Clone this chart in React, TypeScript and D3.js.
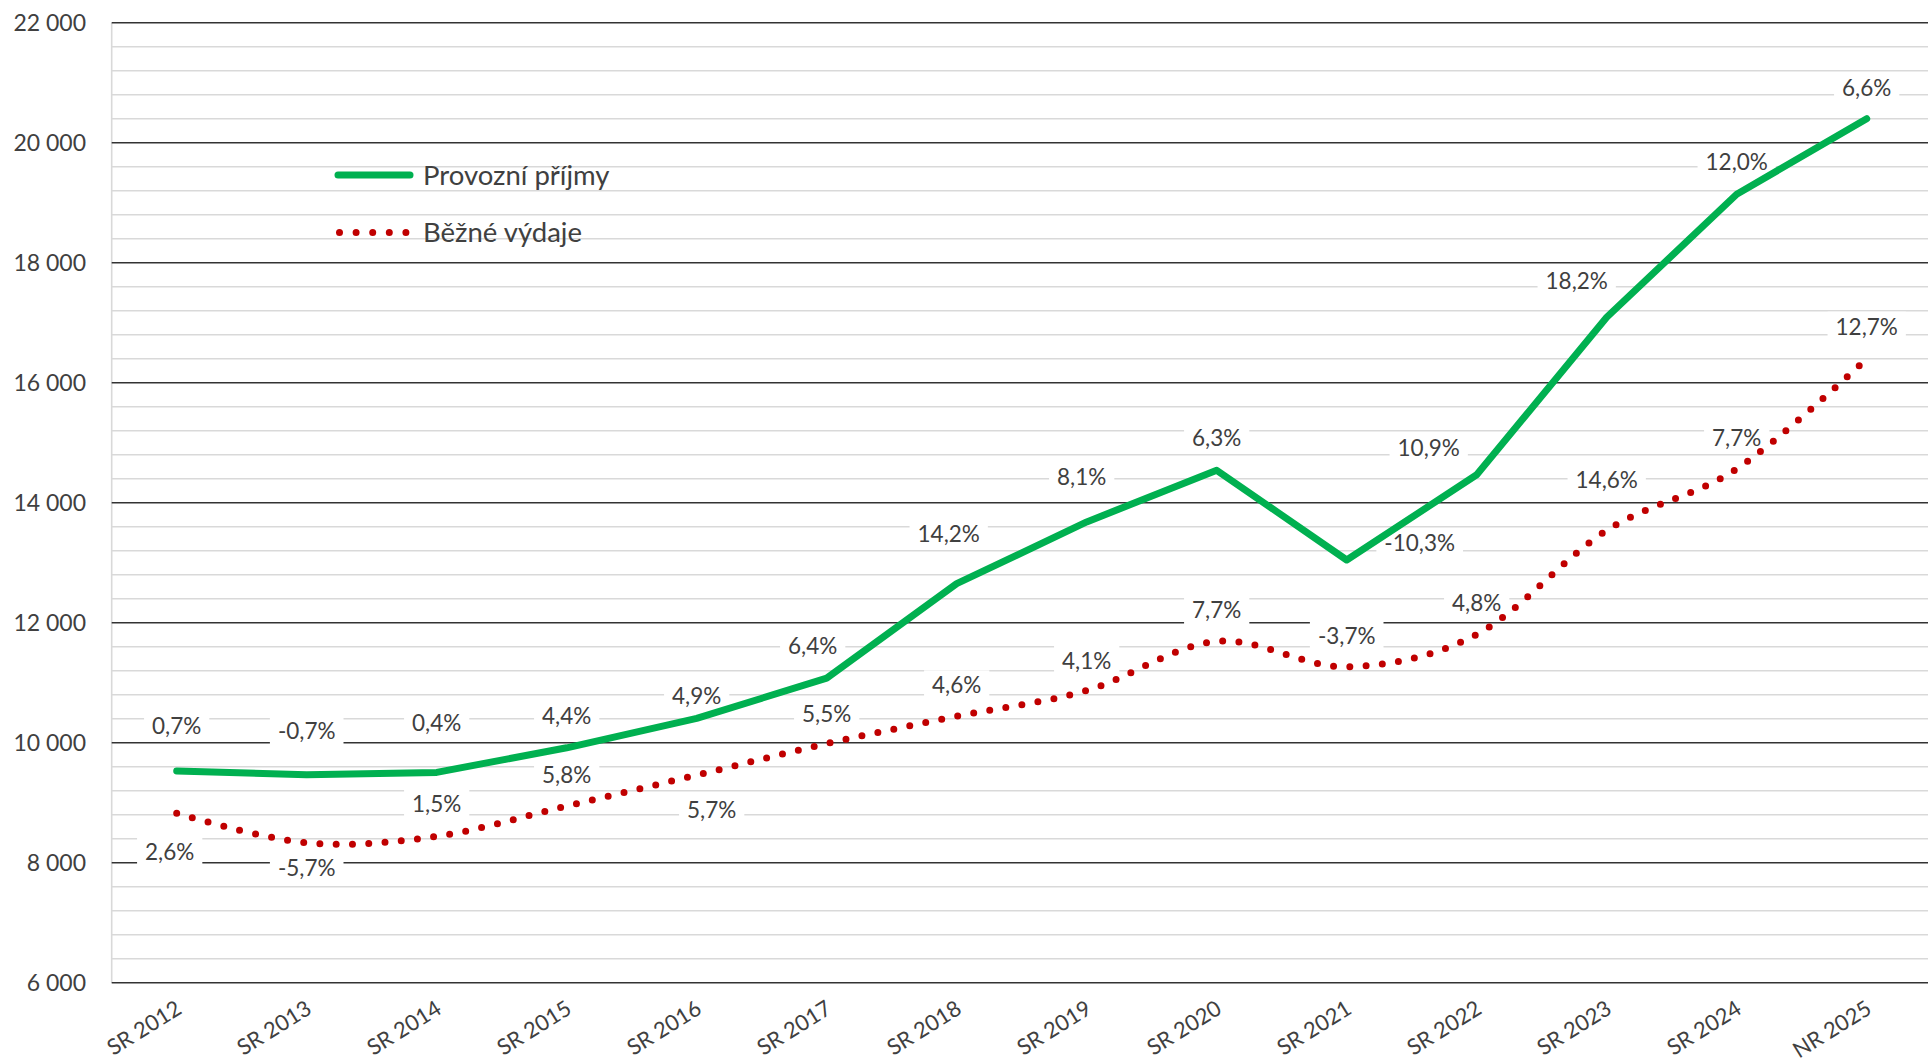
import React, { useEffect, useRef } from "react";
import * as d3 from "d3";

// ---------- data ----------
const categories = [
  "SR 2012", "SR 2013", "SR 2014", "SR 2015", "SR 2016", "SR 2017", "SR 2018",
  "SR 2019", "SR 2020", "SR 2021", "SR 2022", "SR 2023", "SR 2024", "NR 2025",
];
const provozniPrijmy = [9530, 9465, 9505, 9915, 10405, 11075, 12650, 13680, 14540, 13045, 14465, 17090, 19140, 20400];
const bezneVydaje = [8825, 8330, 8440, 8945, 9460, 9985, 10440, 10870, 11690, 11265, 11805, 13540, 14565, 16400];
const prijmyGrowth = [0.7, -0.7, 0.4, 4.4, 4.9, 6.4, 14.2, 8.1, 6.3, -10.3, 10.9, 18.2, 12.0, 6.6];
const vydajeGrowth = [2.6, -5.7, 1.5, 5.8, 5.7, 5.5, 4.6, 4.1, 7.7, -3.7, 4.8, 14.6, 7.7, 12.7];
const majorTicks = [6000, 8000, 10000, 12000, 14000, 16000, 18000, 20000, 22000];
const seriesNames = ["Provozní příjmy", "Běžné výdaje"];

// ---------- label layout (pixel offsets from the point) ----------
const prijmyLabelDx = [0, 0, 0, 0, 0, -14, -8, -5, 0, 73, -48, -30, 0, 0];
const prijmyLabelDy = [-45, -44, -50, -32, -23, -32, -50, -45, -32, -17, -27, -36, -32, -31];
const vydajeLabelDx = [-7, 0, 0, 0, 15, 0, 0, 0, 0, 0, 0, 0, 0, 0];
const vydajeLabelDy = [39, 25, -32, -31, 35, -30, -31, -30, -31, -31, -32, -50, -31, -32];

const W = 1928;
const H = 1064;
const FONT = "Lato, 'Open Sans', 'Noto Sans', sans-serif";
const TEXT = "#404040";
const GREEN = "#00B050";
const RED = "#C00000";

const locale = d3.formatLocale({ decimal: ",", thousands: " ", grouping: [3], currency: ["", ""], minus: "-" });
const fmtThousands = locale.format(",");
const fmtPct = locale.format(".1f");

export default function App() {
  const ref = useRef<SVGSVGElement | null>(null);

  useEffect(() => {
    const svg = d3.select(ref.current);
    svg.selectAll("*").remove();

    const left = 111.7;
    const x = d3.scaleBand<string>().domain(categories).range([left, left + 130 * categories.length]).padding(0);
    const cx = (c: string) => (x(c) as number) + x.bandwidth() / 2;
    const y = d3.scaleLinear().domain([6000, 22000]).range([982.7, 22.7]);

    // grid
    const grid = svg.append("g");
    const minor = d3.range(6000, 22001, 400).filter((v) => v % 2000 !== 0);
    grid.selectAll("line.minor").data(minor).join("line")
      .attr("x1", left).attr("x2", W)
      .attr("y1", (d) => y(d)).attr("y2", (d) => y(d))
      .attr("stroke", "#D9D9D9").attr("stroke-width", 1.6);
    grid.append("line")
      .attr("x1", left).attr("x2", left).attr("y1", y(22000)).attr("y2", y(6000))
      .attr("stroke", "#D9D9D9").attr("stroke-width", 1.6);
    grid.selectAll("line.major").data(majorTicks).join("line")
      .attr("x1", left).attr("x2", W)
      .attr("y1", (d) => y(d)).attr("y2", (d) => y(d))
      .attr("stroke", "#333333").attr("stroke-width", 1.6);

    // y labels
    svg.append("g").selectAll("text").data(majorTicks).join("text")
      .attr("x", 86).attr("y", (d) => y(d)).attr("dy", "0.35em")
      .attr("text-anchor", "end").attr("font-family", FONT).attr("font-size", 23)
      .attr("fill", TEXT).text((d) => fmtThousands(d));

    // x labels
    svg.append("g").selectAll("text").data(categories).join("text")
      .attr("transform", (d) => `translate(${cx(d) - 2},${999}) rotate(-32)`)
      .attr("dy", "0.72em")
      .attr("text-anchor", "end").attr("font-family", FONT).attr("font-size", 22)
      .attr("fill", TEXT).text((d) => d);

    const bgLayer = svg.append("g");
    const lineLayer = svg.append("g");
    const textLayer = svg.append("g");

    // lines
    const greenPts = categories.map((c, i) => [cx(c), y(provozniPrijmy[i])] as [number, number]);
    const redPts = categories.map((c, i) => [cx(c), y(bezneVydaje[i])] as [number, number]);

    lineLayer.append("path")
      .attr("d", d3.line().curve(d3.curveCardinal.tension(0))(redPts) as string)
      .attr("fill", "none").attr("stroke", RED).attr("stroke-width", 7)
      .attr("stroke-linecap", "round").attr("stroke-dasharray", "0 16.3");
    lineLayer.append("path")
      .attr("d", d3.line()(greenPts) as string)
      .attr("fill", "none").attr("stroke", GREEN).attr("stroke-width", 7)
      .attr("stroke-linecap", "round").attr("stroke-linejoin", "round");

    // data labels
    const addLabels = (pts: [number, number][], growth: number[], dx: number[], dy: number[]) => {
      pts.forEach((p, i) => {
        const lx = p[0] + dx[i];
        const ly = p[1] + dy[i];
        const t = textLayer.append("text")
          .attr("x", lx).attr("y", ly).attr("dy", "0.36em")
          .attr("text-anchor", "middle").attr("font-family", FONT).attr("font-size", 22.5)
          .attr("fill", TEXT).text(fmtPct(growth[i]) + "%");
        const bb = (t.node() as SVGTextElement).getBBox();
        bgLayer.append("rect")
          .attr("x", lx - bb.width / 2 - 8).attr("y", ly - 15)
          .attr("width", bb.width + 16).attr("height", 30)
          .attr("fill", "#ffffff");
      });
    };
    addLabels(greenPts, prijmyGrowth, prijmyLabelDx, prijmyLabelDy);
    addLabels(redPts, vydajeGrowth, vydajeLabelDx, vydajeLabelDy);

    // legend
    const lg = svg.append("g");
    lg.append("line").attr("x1", 338).attr("x2", 410).attr("y1", 175).attr("y2", 175)
      .attr("stroke", GREEN).attr("stroke-width", 7).attr("stroke-linecap", "round");
    lg.append("line").attr("x1", 339.5).attr("x2", 410).attr("y1", 232.5).attr("y2", 232.5)
      .attr("stroke", RED).attr("stroke-width", 7).attr("stroke-linecap", "round")
      .attr("stroke-dasharray", "0 16.6");
    lg.selectAll("text").data(seriesNames).join("text")
      .attr("x", 423).attr("y", (_d, i) => (i === 0 ? 175 : 232.5)).attr("dy", "0.35em")
      .attr("font-family", FONT).attr("font-size", 27.5).attr("fill", TEXT)
      .text((d) => d);
  }, []);

  return (
    <div style={{ position: "absolute", left: 0, top: 0, width: W, height: H, background: "#fff" }}>
      <svg ref={ref} width={W} height={H} style={{ display: "block" }} />
    </div>
  );
}
